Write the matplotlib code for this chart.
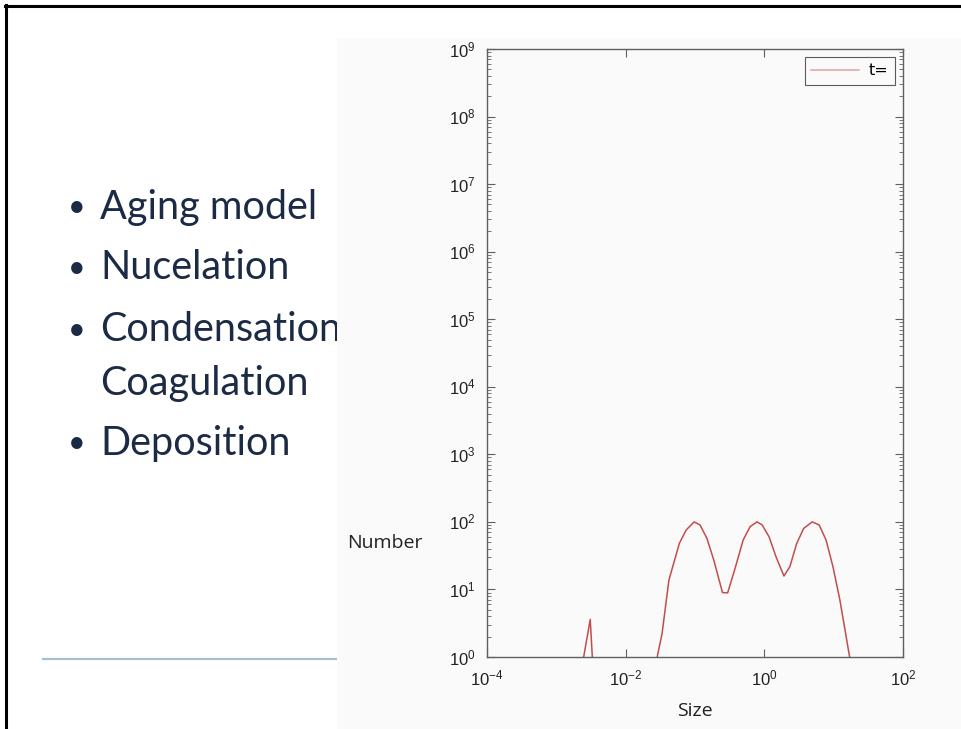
import numpy as np
import matplotlib
matplotlib.use("Agg")
import matplotlib.pyplot as plt
from matplotlib.patches import Rectangle
from matplotlib.lines import Line2D
from matplotlib.ticker import LogLocator, FixedLocator, NullFormatter

plt.rcParams['mathtext.fontset'] = 'custom'
plt.rcParams['mathtext.rm'] = 'Liberation Sans'
plt.rcParams['mathtext.it'] = 'Liberation Sans'

# ---- data (log10 of size, number) ----
size_log = [-2.64, -2.511, -2.47, -1.60, -1.475, -1.376, -1.226, -1.127, -1.012, -0.927, -0.828,
            -0.728, -0.604, -0.529, -0.429, -0.305, -0.205, -0.106, -0.031, 0.069,
            0.168, 0.283, 0.368, 0.467, 0.567, 0.691, 0.791, 0.890, 0.990, 1.090, 1.164, 1.28]
number = [0.63, 3.6, 0.63, 0.54, 2.22, 13.8, 48, 76, 100, 90, 57,
          27, 9.0, 8.9, 19.4, 54, 85, 100, 90, 60,
          30.5, 15.8, 21.7, 48, 80, 100, 90, 54, 21.7, 6.95, 2.5, 0.5]
# gap between spike and main distribution
segments = [(0, 3), (3, len(size_log))]

bullets = ["Aging model", "Nucelation", "Condensation", "Deposition"]
extra_line = "Coagulation"
xticks = [1e-4, 1e-2, 1e0, 1e2]
xtick_labels = [r'$10^{-4}$', r'$10^{-2}$', r'$10^{0}$', r'$10^{2}$']
yticks = [10.0 ** k for k in range(0, 10)]
ytick_labels = [r'$10^{%d}$' % k for k in range(0, 10)]

W, H = 962, 729
fig = plt.figure(figsize=(W / 100, H / 100), dpi=100)
fig.patch.set_facecolor('white')

def fx(px):
    return px / W

def fy(py):
    return 1 - py / H

# slide border (top and left)
fig.add_artist(Line2D([fx(6), fx(6)], [fy(5), 0], color='black', lw=2.2, zorder=1))
fig.add_artist(Line2D([fx(5), 1], [fy(6), fy(6)], color='black', lw=2.2, zorder=1))

# bullet text
txt_color = '#1c2b45'
font = ['Lato', 'DejaVu Sans']
ys = [207, 268, 330, 443]
for t, y in zip(bullets, ys):
    fig.text(fx(68), fy(y), '•', fontsize=22, color=txt_color, va='center', ha='left',
             family=font, zorder=2)
    fig.text(fx(100), fy(y), t, fontsize=28.5, color=txt_color, va='center', ha='left',
             family=font, zorder=2)
fig.text(fx(100), fy(383), extra_line, fontsize=28.5, color=txt_color, va='center', ha='left',
         family=font, zorder=2)

# blue-gray rule
fig.add_artist(Line2D([fx(43), fx(337)], [fy(659), fy(659)], color='#a9bdd0', lw=1.6, zorder=2))

# gray panel covering part of text
panel_col = '#fafafa'
fig.add_artist(Rectangle((fx(337), 0), 1 - fx(337), fy(38), transform=fig.transFigure,
                         facecolor=panel_col, edgecolor='none', zorder=3))

# axes
ax = fig.add_axes([487 / W, 1 - 657 / H, (903 - 487) / W, (657 - 49) / H], zorder=5)
ax.set_facecolor(panel_col)
ax.set_xscale('log')
ax.set_yscale('log')
ax.set_xlim(1e-4, 1e2)
ax.set_ylim(1, 1e9)

xs = 10.0 ** np.array(size_log)
ys_ = np.array(number)
col = '#c44c4e'
for i, (a, b) in enumerate(segments):
    ax.plot(xs[a:b], ys_[a:b], color=col, lw=1.1, label='t=' if i == 0 else None)

ax.xaxis.set_major_locator(FixedLocator(xticks))
ax.set_xticklabels(xtick_labels)
ax.xaxis.set_minor_locator(FixedLocator([]))
ax.yaxis.set_major_locator(FixedLocator(yticks))
ax.set_yticklabels(ytick_labels)
ax.yaxis.set_minor_locator(LogLocator(base=10, subs=np.arange(2, 10), numticks=20))
ax.yaxis.set_minor_formatter(NullFormatter())

spine_col = '#606060'
for s in ax.spines.values():
    s.set_color(spine_col)
    s.set_linewidth(1.0)
ax.tick_params(which='both', direction='in', top=True, right=True, color=spine_col,
               labelsize=12, labelcolor='#222222')
ax.tick_params(axis='x', which='major', length=6, pad=9)
ax.tick_params(axis='y', which='major', length=6, pad=8)
ax.tick_params(which='minor', length=3)

ax.set_xlabel('Size', fontsize=14, family=['Open Sans', 'DejaVu Sans'], color='#222222', labelpad=9)
fig.text(fx(385), fy(543), 'Number', fontsize=14, family=['Open Sans', 'DejaVu Sans'],
         color='#222222', ha='center', va='center', zorder=6)

leg = ax.legend(loc='upper right', fontsize=11.5, frameon=True, fancybox=False,
                handlelength=3.0, handletextpad=0.6, borderaxespad=0.5, borderpad=0.4)
leg.get_frame().set_edgecolor('#333333')
leg.get_frame().set_linewidth(0.8)
leg.get_frame().set_facecolor(panel_col)
for ln in leg.get_lines():
    ln.set_color('#e0a0a0')

fig.savefig('out.png', dpi=100, facecolor=fig.get_facecolor())
